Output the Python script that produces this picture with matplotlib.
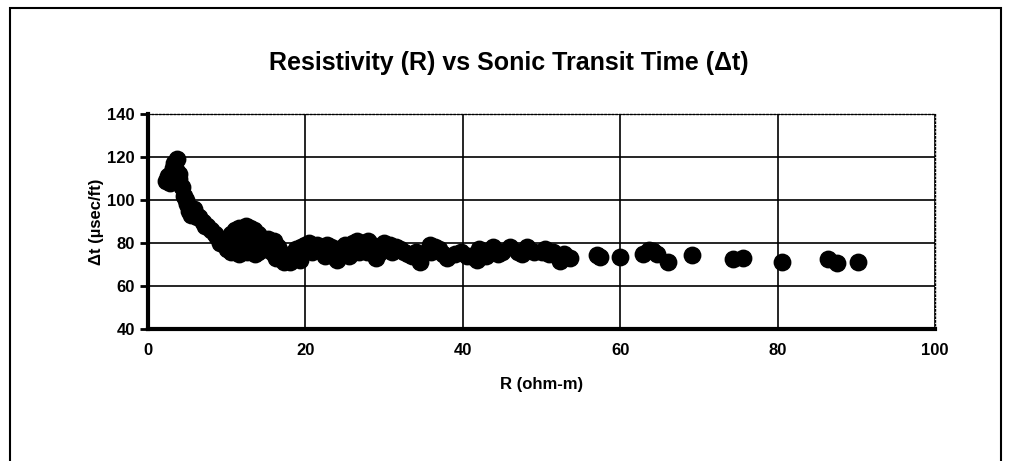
import matplotlib
matplotlib.use("Agg")
import matplotlib.pyplot as plt
from matplotlib.patches import Rectangle

# resistivity (ohm-m) and sonic transit time (usec/ft)
r_ohm = [2.3, 2.6, 3.0, 3.3, 3.7, 3.5, 4.0, 4.3, 4.6, 5.0, 5.2, 5.5, 6.0, 6.5,
         7.0, 7.5, 8.0, 8.5, 9.0, 9.5, 10.0, 10.5, 11.0, 11.5, 12.0, 12.5, 13.0,
         13.5, 14.0, 10.2, 11.0, 12.0, 13.0, 14.0, 15.0, 15.5, 16.0, 16.5, 17.0,
         17.5, 18.0, 18.5, 19.0, 19.5, 20.0, 20.5, 21.0, 22.0, 23.0, 23.5, 24.0,
         24.5, 25.0, 26.0, 26.5, 27.0, 28.0, 28.5, 29.0, 30.0, 30.5, 31.0, 32.0,
         33.0, 34.0, 34.6, 35.8, 36.5, 37.0, 38.0, 39.0, 39.8, 41.0, 41.8, 42.5,
         43.8, 45.0, 46.0, 47.0, 48.2, 49.0, 50.0, 51.0, 52.3, 52.8, 53.6, 57.0,
         57.4, 60.0, 62.9, 63.6, 64.2, 64.7, 66.1, 69.1, 74.3, 75.6, 80.6, 86.4,
         87.5, 90.2,
         # denser part of the cloud
         2.8, 3.2, 3.9, 4.8, 5.8, 6.2, 7.2, 8.8, 9.8, 10.8, 11.3, 12.3, 12.8,
         13.3, 14.5, 15.2, 10.6, 11.6, 12.6, 13.6, 14.6, 15.8, 16.3, 16.8, 17.3,
         18.2, 18.8, 19.3, 21.5, 22.5, 23.2, 24.2, 25.5, 26.8, 27.5, 29.5, 31.5,
         32.5, 33.5, 36.0, 37.5, 40.5, 42.0, 43.0, 44.5, 47.5, 50.5, 51.5, 14.8,
         16.0, 20.8, 22.8, 25.8, 27.8, 30.8, 9.2, 10.0]
dt_usec = [109, 111, 113, 117, 119, 114, 110, 106, 102, 98, 95, 93, 94, 92,
           90, 88, 86, 84, 82, 81, 80, 84, 86, 87, 85, 88, 87,
           86, 84, 78, 77, 79, 78, 76, 77, 80, 79, 78, 74,
           72, 71, 73, 75, 78, 79, 80, 78, 77, 76, 74, 72,
           76, 79, 80, 81, 78, 81, 79, 73, 80, 77, 76, 77,
           75, 76, 71, 79, 78, 77, 73, 75, 76, 74, 72, 75,
           78, 76, 78, 76, 78, 76, 76, 75, 71.6, 75, 73, 74.4,
           73.5, 73.5, 75, 76.7, 76.5, 75, 71, 74.4, 72.5, 73, 71, 72.5,
           70.7, 71,
           108, 115, 112, 100, 96, 92, 88, 83, 79, 82, 80, 83, 81,
           83, 79, 82, 76, 75, 76, 75, 77, 76, 73, 76, 71,
           75, 77, 72, 79, 74, 78, 77, 74, 76, 80, 76, 78,
           76, 74, 76, 75, 74, 77, 74, 75, 75, 77, 76, 82,
           81, 76, 79, 77, 76, 79, 80, 77]

x_ticks = [0, 20, 40, 60, 80, 100]
y_ticks = [40, 60, 80, 100, 120, 140]

plt.rcParams['font.family'] = ['Liberation Sans', 'DejaVu Sans']

fig = plt.figure(figsize=(10.18, 4.61), dpi=100)
fig.patches.append(Rectangle((10 / 1018, -0.05), (1001 - 10) / 1018, 1.05 - 8 / 461,
                             transform=fig.transFigure, fill=False,
                             edgecolor='black', linewidth=1.5))

ax = fig.add_axes([0.1454, 0.2863, 0.9185 - 0.1454, 0.7527 - 0.2863])
ax.scatter(r_ohm, dt_usec, s=140, color='black', zorder=3)

ax.set_xlim(0, 100)
ax.set_ylim(40, 140)
ax.set_xticks(x_ticks)
ax.set_yticks(y_ticks)
ax.grid(True, color='black', linewidth=1.2)
ax.set_axisbelow(True)

for side in ['top', 'right']:
    ax.spines[side].set_linewidth(1.0)
    ax.spines[side].set_linestyle(':')
ax.spines['left'].set_linewidth(3)
ax.spines['bottom'].set_linewidth(3)
ax.tick_params(axis='y', length=6, width=2, direction='out', labelsize=12)
ax.tick_params(axis='x', length=0, labelsize=12, pad=10)
for lab in ax.get_xticklabels() + ax.get_yticklabels():
    lab.set_fontweight('bold')

ax.set_xlabel('R (ohm-m)', fontsize=12, fontweight='bold', labelpad=14)
ax.set_ylabel('\u0394t (\u00b5sec/ft)', fontsize=12, fontweight='bold', labelpad=2)
fig.text(0.5, 0.863, 'Resistivity (R) vs Sonic Transit Time (\u0394t)',
         ha='center', va='center', fontsize=18, fontweight='bold')

fig.savefig('out.png', dpi=100, facecolor='white')
